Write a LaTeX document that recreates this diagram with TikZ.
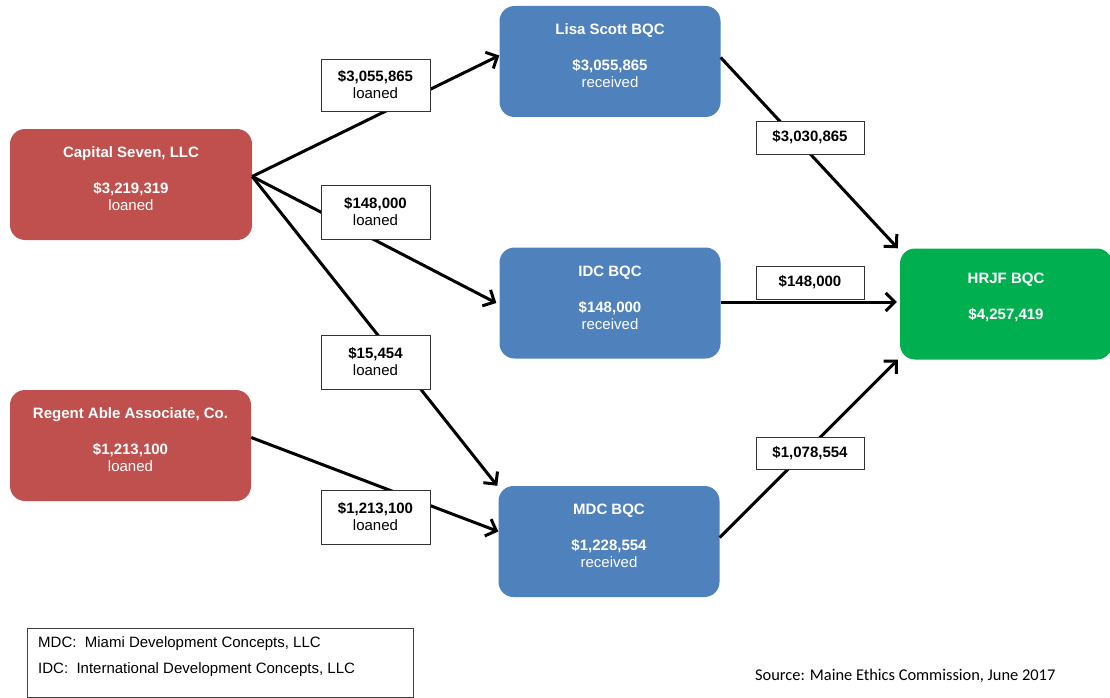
\documentclass[tikz,border=0pt]{standalone}
\usepackage{fontspec}
\setmainfont{Liberation Sans}
\newfontfamily\notefont{Carlito}
\usetikzlibrary{arrows.meta}
\definecolor{lendred}{RGB}{192,80,77}
\definecolor{bqcblue}{RGB}{79,129,189}
\definecolor{bqcgreen}{RGB}{0,176,80}

\begin{document}
\begin{tikzpicture}[x=1pt, y=-1pt,
	party/.style={rounded corners=15pt, inner sep=0pt, text=white, align=center,
		minimum width=221pt, minimum height=111pt, text depth=11pt,
		font=\fontsize{15}{17}\selectfont},
	flow/.style={line width=3pt, -{Straight Barb[length=9pt, width=18pt]}},
	amount/.style={draw=black!80, fill=white, thick, inner sep=0pt, align=center,
		minimum width=109pt, font=\fontsize{15}{17}\selectfont}]
	\useasboundingbox (0,0) rectangle (1110,698);

	% lenders
	\node[party, fill=lendred, minimum width=242pt] (cap) at (131,184.5) {\textbf{Capital Seven, LLC}\\[19pt]\textbf{\$3,219,319}\\loaned};
	\node[party, fill=lendred, minimum width=241pt] (reg) at (130.5,445.5) {\textbf{Regent Able Associate, Co.}\\[19pt]\textbf{\$1,213,100}\\loaned};

	% BQCs
	\node[party, fill=bqcblue] (lisa) at (610,61.5) {\textbf{Lisa Scott BQC}\\[19pt]\textbf{\$3,055,865}\\received};
	\node[party, fill=bqcblue] (idc) at (610,303) {\textbf{IDC BQC}\\[19pt]\textbf{\$148,000}\\received};
	\node[party, fill=bqcblue] (mdc) at (609,541.5) {\textbf{MDC BQC}\\[19pt]\textbf{\$1,228,554}\\received};
	\node[party, fill=bqcgreen, minimum width=212pt, text depth=16pt] (hrjf) at (1006,304) {\textbf{HRJF BQC}\\[19pt]\textbf{\$4,257,419}};

	\coordinate (capout) at ([yshift=8pt]cap.east);
	\coordinate (regout) at ([yshift=8pt]reg.east);

	\draw[flow] (capout) -- ([yshift=6pt]lisa.west);
	\draw[flow] (capout) -- ([xshift=-3pt]idc.west);
	\draw[flow] (capout) -- ([xshift=-1pt]mdc.north west);
	\draw[flow] (regout) -- ([yshift=10pt]mdc.west);
	\draw[flow] ([yshift=4pt]lisa.east) -- ([xshift=-2pt]hrjf.north west);
	\draw[flow] ([yshift=1pt]idc.east) -- ([xshift=-3pt, yshift=2pt]hrjf.west);
	\draw[flow] ([yshift=4pt]mdc.east) -- ([xshift=-2pt]hrjf.south west);

	% amounts on the flows
	\node[amount, minimum height=52pt] (a1) at (375.5,85) {\textbf{\$3,055,865}\\loaned};
	\node[amount, minimum height=54pt] (a2) at (375.5,212) {\textbf{\$148,000}\\loaned};
	\node[amount, minimum height=54pt] (a3) at (375.5,362) {\textbf{\$15,454}\\loaned};
	\node[amount, minimum height=54pt] (a4) at (375.5,517) {\textbf{\$1,213,100}\\loaned};
	\node[amount, minimum width=108pt, minimum height=33pt] (b1) at (810,137.5) {\textbf{\$3,030,865}};
	\node[amount, minimum width=108pt, minimum height=33pt] (b2) at (810,282.5) {\textbf{\$148,000}};
	\node[amount, minimum width=108pt, minimum height=32pt] (b3) at (810,453) {\textbf{\$1,078,554}};

	% key and source
	\node[draw=black!75, thin, minimum width=386pt, minimum height=69pt, inner sep=0pt] (key) at (220,662.5) {};
	\node[anchor=base west, inner sep=0pt, font=\fontsize{15}{17}\selectfont] (keymdc) at (38,647) {MDC:\ \ Miami Development Concepts, LLC};
	\node[anchor=base west, inner sep=0pt, font=\fontsize{15}{17}\selectfont] (keyidc) at (38,673) {IDC:\ \ International Development Concepts, LLC};
	\node[anchor=base west, inner sep=0pt, font=\notefont\fontsize{16.4}{19}\selectfont] (source) at (755,680) {Source: Maine Ethics Commission, June 2017};
\end{tikzpicture}
\end{document}
